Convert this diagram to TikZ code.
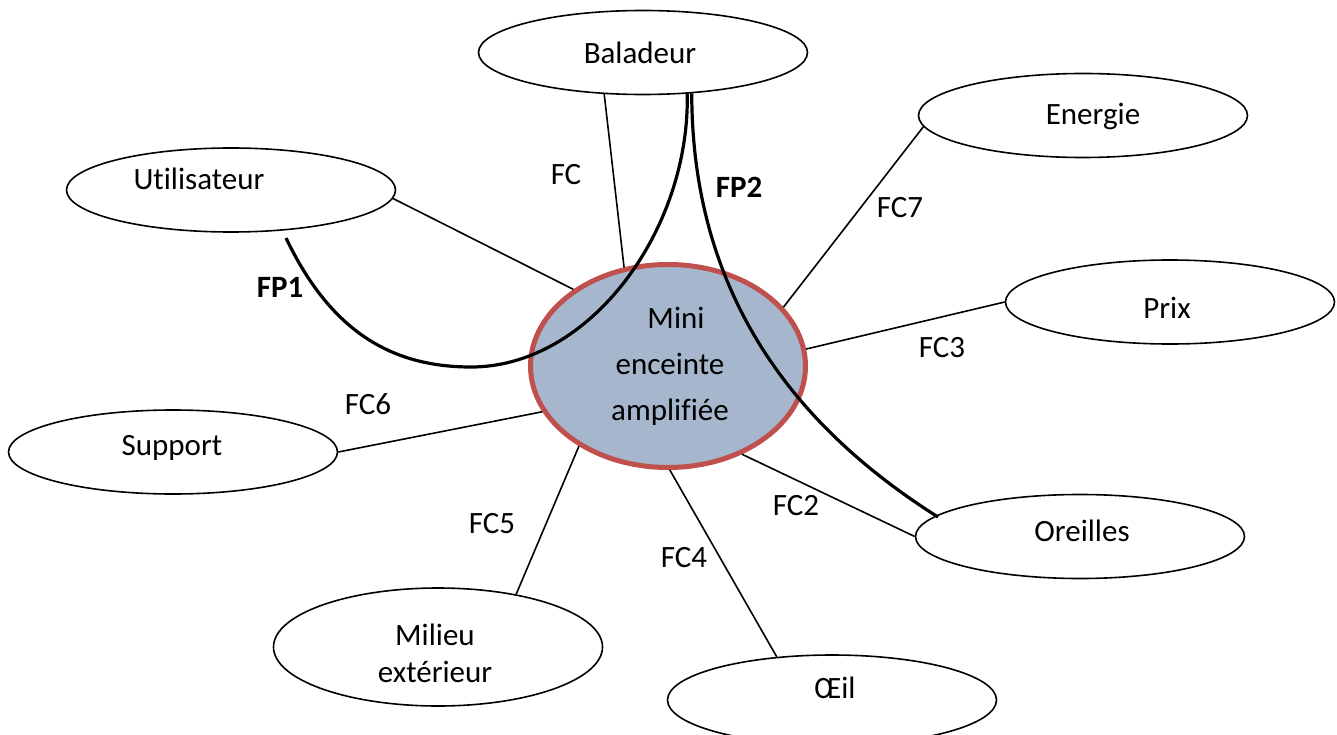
\documentclass[tikz,border=0pt]{standalone}
\usepackage{fontspec}
\setmainfont{Carlito}[Ligatures=NoCommon]
\usetikzlibrary{shapes.geometric}
\definecolor{cfill}{RGB}{166,182,204}
\definecolor{cborder}{RGB}{192,80,77}
\begin{document}
\begin{tikzpicture}[x=1pt,y=-1pt,
  every node/.style={font=\fontsize{31}{37}\selectfont},
  oval/.style={ellipse, draw=black, line width=1.6pt, fill=white, minimum width=329pt, minimum height=84pt, inner sep=0pt},
  conn/.style={draw=black, line width=1.6pt},
  fpcurve/.style={draw=black, line width=3.2pt},
  lbl/.style={inner sep=0pt, anchor=center}]
\useasboundingbox (0,0) rectangle (1337,735);
% outer ellipses
\node[oval] (bal) at (643,52.5) {};
\node[oval] (ene) at (1083,115.5) {};
\node[oval] (uti) at (231,190) {};
\node[oval] (pri) at (1170,302) {};
\node[oval] (sup) at (173,452) {};
\node[oval] (ore) at (1080,536.5) {};
\node[oval, minimum height=118pt] (mil) at (438,647) {};
\node[oval, minimum height=90pt] (oei) at (832,700) {};
% central ellipse
\node[ellipse, draw=cborder, line width=5pt, fill=cfill, minimum width=275pt, minimum height=203pt, inner sep=0pt] (mec) at (668,366) {};
% texts
\node[lbl] (tbal) at (640,53) {Baladeur};
\node[lbl] (tene) at (1093,117) {Energie};
\node[lbl] (tuti) at (199,179) {Utilisateur};
\node[lbl] (tpri) at (1167,308) {Prix};
\node[lbl] (tsup) at (172,448) {Support};
\node[lbl] (tore) at (1082,531) {Oreilles};
\node[lbl, align=center] (tmil) at (435,653) {Milieu\\extérieur};
\node[lbl] (toei) at (835,688) {Œil};
\node[lbl, align=center, font=\fontsize{31}{46}\selectfont] (tmec) at (670,366) {\hspace*{12pt}Mini\\enceinte\\amplifiée};
% connectors
\draw[conn] (uti.-3) -- (mec.141.7);
\draw[conn] (bal.227.5) -- (mec.114.3);
\draw[conn] (ene.184.1) -- (mec.27.8);
\draw[conn] (pri.180.4) -- (mec.7.4);
\draw[conn] (sup.0) -- (mec.200.9);
\draw[conn] (ore.180.2) -- (mec.310.6);
\draw[conn] (mil.34.4) -- (mec.222.2);
\draw[conn] (oei.142.1) -- (mec.271);
% labels
\node[lbl] (lfc) at (566,175) {FC};
\node[lbl] (lfc7) at (900,208) {FC7};
\node[lbl] (lfc3) at (942,348) {FC3};
\node[lbl] (lfc6) at (368,404) {FC6};
\node[lbl] (lfc5) at (492,524) {FC5};
\node[lbl] (lfc2) at (796,506) {FC2};
\node[lbl] (lfc4) at (684,558) {FC4};
\node[lbl, font=\fontsize{31}{37}\selectfont\bfseries] (lfp1) at (280,287) {FP1};
\node[lbl, font=\fontsize{31}{37}\selectfont\bfseries] (lfp2) at (739,187) {FP2};
% function curves
\coordinate (fp1start) at (286,238);
\coordinate (fp1low) at (471,367);
\coordinate (fp2end) at (938,517);
\draw[fpcurve] (fp1start) .. controls (330,330) and (390,367) .. (fp1low)
  .. controls (590,367) and (690,230) .. (bal.-43.4);
\draw[fpcurve] (bal.-40.9) .. controls (692,300) and (800,430) .. (fp2end);
\end{tikzpicture}
\end{document}
